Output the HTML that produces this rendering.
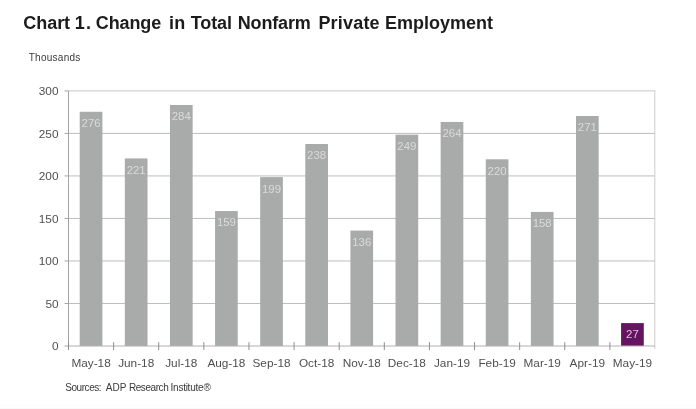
<!DOCTYPE html>
<html><head><meta charset="utf-8"><title>Chart 1</title>
<style>
html,body{margin:0;padding:0;background:#fff;}
body{width:696px;height:409px;overflow:hidden;position:relative;}
svg text{font-family:"Liberation Sans",Arial,sans-serif;}
.title{font-size:18px;font-weight:bold;fill:#1c1c1c;}
.ax{font-size:11.8px;fill:#505050;}
.dl{font-size:11.4px;}
.sm{font-size:10px;fill:#3a3a3a;}
</style></head><body>
<svg width="696" height="409" viewBox="0 0 696 409" style="position:absolute;left:0;top:0">
<rect x="0" y="0" width="696" height="409" fill="#ffffff"/>
<rect x="0" y="404" width="696" height="5" fill="#fdfdfd"/>
<rect x="0" y="408" width="696" height="1" fill="#f9f9f9"/>
<line x1="68.5" x2="655.0" y1="303.48" y2="303.48" stroke="#bebebe" stroke-width="1"/>
<line x1="68.5" x2="655.0" y1="260.97" y2="260.97" stroke="#bebebe" stroke-width="1"/>
<line x1="68.5" x2="655.0" y1="218.45" y2="218.45" stroke="#bebebe" stroke-width="1"/>
<line x1="68.5" x2="655.0" y1="175.93" y2="175.93" stroke="#bebebe" stroke-width="1"/>
<line x1="68.5" x2="655.0" y1="133.42" y2="133.42" stroke="#bebebe" stroke-width="1"/>
<line x1="68.5" x2="655.0" y1="90.90" y2="90.90" stroke="#c8c8c8" stroke-width="1"/>
<line x1="654.8" x2="654.8" y1="90.4" y2="349.0" stroke="#cccccc" stroke-width="1"/>
<rect x="79.71" y="111.76" width="22.7" height="234.24" fill="#a9abaa"/>
<rect x="124.82" y="158.44" width="22.7" height="187.56" fill="#a9abaa"/>
<rect x="169.94" y="104.97" width="22.7" height="241.03" fill="#a9abaa"/>
<rect x="215.05" y="211.06" width="22.7" height="134.94" fill="#a9abaa"/>
<rect x="260.17" y="177.11" width="22.7" height="168.89" fill="#a9abaa"/>
<rect x="305.28" y="144.01" width="22.7" height="201.99" fill="#a9abaa"/>
<rect x="350.40" y="230.58" width="22.7" height="115.42" fill="#a9abaa"/>
<rect x="395.52" y="134.67" width="22.7" height="211.33" fill="#a9abaa"/>
<rect x="440.63" y="121.94" width="22.7" height="224.06" fill="#a9abaa"/>
<rect x="485.75" y="159.29" width="22.7" height="186.71" fill="#a9abaa"/>
<rect x="530.86" y="211.91" width="22.7" height="134.09" fill="#a9abaa"/>
<rect x="575.98" y="116.00" width="22.7" height="230.00" fill="#a9abaa"/>
<rect x="621.09" y="323.09" width="22.7" height="22.91" fill="#651462"/>
<line x1="68.5" x2="68.5" y1="90.9" y2="346.0" stroke="#a4a4a4" stroke-width="1"/>
<line x1="68.5" x2="655.0" y1="346.0" y2="346.0" stroke="#b0b0b0" stroke-width="1"/>
<line x1="64.5" x2="68.5" y1="346.00" y2="346.00" stroke="#a4a4a4" stroke-width="1"/>
<text x="58.5" y="350.30" text-anchor="end" class="ax">0</text>
<line x1="64.5" x2="68.5" y1="303.48" y2="303.48" stroke="#a4a4a4" stroke-width="1"/>
<text x="58.5" y="307.78" text-anchor="end" class="ax">50</text>
<line x1="64.5" x2="68.5" y1="260.97" y2="260.97" stroke="#a4a4a4" stroke-width="1"/>
<text x="58.5" y="265.27" text-anchor="end" class="ax">100</text>
<line x1="64.5" x2="68.5" y1="218.45" y2="218.45" stroke="#a4a4a4" stroke-width="1"/>
<text x="58.5" y="222.75" text-anchor="end" class="ax">150</text>
<line x1="64.5" x2="68.5" y1="175.93" y2="175.93" stroke="#a4a4a4" stroke-width="1"/>
<text x="58.5" y="180.23" text-anchor="end" class="ax">200</text>
<line x1="64.5" x2="68.5" y1="133.42" y2="133.42" stroke="#a4a4a4" stroke-width="1"/>
<text x="58.5" y="137.72" text-anchor="end" class="ax">250</text>
<line x1="64.5" x2="68.5" y1="90.90" y2="90.90" stroke="#a4a4a4" stroke-width="1"/>
<text x="58.5" y="95.20" text-anchor="end" class="ax">300</text>
<line x1="68.50" x2="68.50" y1="342.2" y2="350.0" stroke="#8e8e8e" stroke-width="1"/>
<line x1="113.62" x2="113.62" y1="342.2" y2="350.0" stroke="#8e8e8e" stroke-width="1"/>
<line x1="158.73" x2="158.73" y1="342.2" y2="350.0" stroke="#8e8e8e" stroke-width="1"/>
<line x1="203.85" x2="203.85" y1="342.2" y2="350.0" stroke="#8e8e8e" stroke-width="1"/>
<line x1="248.96" x2="248.96" y1="342.2" y2="350.0" stroke="#8e8e8e" stroke-width="1"/>
<line x1="294.08" x2="294.08" y1="342.2" y2="350.0" stroke="#8e8e8e" stroke-width="1"/>
<line x1="339.19" x2="339.19" y1="342.2" y2="350.0" stroke="#8e8e8e" stroke-width="1"/>
<line x1="384.31" x2="384.31" y1="342.2" y2="350.0" stroke="#8e8e8e" stroke-width="1"/>
<line x1="429.42" x2="429.42" y1="342.2" y2="350.0" stroke="#8e8e8e" stroke-width="1"/>
<line x1="474.54" x2="474.54" y1="342.2" y2="350.0" stroke="#8e8e8e" stroke-width="1"/>
<line x1="519.65" x2="519.65" y1="342.2" y2="350.0" stroke="#8e8e8e" stroke-width="1"/>
<line x1="564.77" x2="564.77" y1="342.2" y2="350.0" stroke="#8e8e8e" stroke-width="1"/>
<line x1="609.88" x2="609.88" y1="342.2" y2="350.0" stroke="#8e8e8e" stroke-width="1"/>
<text x="91.06" y="366.8" text-anchor="middle" class="ax">May-18</text>
<text x="136.17" y="366.8" text-anchor="middle" class="ax">Jun-18</text>
<text x="181.29" y="366.8" text-anchor="middle" class="ax">Jul-18</text>
<text x="226.40" y="366.8" text-anchor="middle" class="ax">Aug-18</text>
<text x="271.52" y="366.8" text-anchor="middle" class="ax">Sep-18</text>
<text x="316.63" y="366.8" text-anchor="middle" class="ax">Oct-18</text>
<text x="361.75" y="366.8" text-anchor="middle" class="ax">Nov-18</text>
<text x="406.87" y="366.8" text-anchor="middle" class="ax">Dec-18</text>
<text x="451.98" y="366.8" text-anchor="middle" class="ax">Jan-19</text>
<text x="497.10" y="366.8" text-anchor="middle" class="ax">Feb-19</text>
<text x="542.21" y="366.8" text-anchor="middle" class="ax">Mar-19</text>
<text x="587.33" y="366.8" text-anchor="middle" class="ax">Apr-19</text>
<text x="632.44" y="366.8" text-anchor="middle" class="ax">May-19</text>
<text x="91.06" y="127.16" text-anchor="middle" class="dl" fill="#dadada">276</text>
<text x="136.17" y="173.84" text-anchor="middle" class="dl" fill="#dadada">221</text>
<text x="181.29" y="120.37" text-anchor="middle" class="dl" fill="#dadada">284</text>
<text x="226.40" y="226.46" text-anchor="middle" class="dl" fill="#dadada">159</text>
<text x="271.52" y="192.51" text-anchor="middle" class="dl" fill="#dadada">199</text>
<text x="316.63" y="159.41" text-anchor="middle" class="dl" fill="#dadada">238</text>
<text x="361.75" y="245.98" text-anchor="middle" class="dl" fill="#dadada">136</text>
<text x="406.87" y="150.07" text-anchor="middle" class="dl" fill="#dadada">249</text>
<text x="451.98" y="137.34" text-anchor="middle" class="dl" fill="#dadada">264</text>
<text x="497.10" y="174.69" text-anchor="middle" class="dl" fill="#dadada">220</text>
<text x="542.21" y="227.31" text-anchor="middle" class="dl" fill="#dadada">158</text>
<text x="587.33" y="131.40" text-anchor="middle" class="dl" fill="#dadada">271</text>
<text x="632.44" y="338.49" text-anchor="middle" class="dl" fill="#dcc6da">27</text>
<text y="28.5" class="title"><tspan x="23.3" letter-spacing="-0.05">Chart</tspan> <tspan x="74.8" letter-spacing="1.2">1.</tspan> <tspan x="95.8" letter-spacing="-0.12">Change</tspan> <tspan x="169.1" letter-spacing="0.2">in</tspan> <tspan x="190.7" letter-spacing="-0.1">Total</tspan> <tspan x="237.7" letter-spacing="-0.15">Nonfarm</tspan> <tspan x="318.4" letter-spacing="0.2">Private</tspan> <tspan x="384.9" letter-spacing="0">Employment</tspan></text>
<text x="28.7" y="61.0" class="sm" letter-spacing="0.27">Thousands</text>
<text y="390.9" class="sm"><tspan x="65.2" textLength="36.4" lengthAdjust="spacing">Sources:</tspan> <tspan x="105.8" textLength="20.4" lengthAdjust="spacing">ADP</tspan> <tspan x="128.9" textLength="39.8" lengthAdjust="spacing">Research</tspan> <tspan x="170.6" textLength="32.9" lengthAdjust="spacing">Institute</tspan> <tspan x="203.6" textLength="8.4" lengthAdjust="spacing">®</tspan></text>
</svg>
</body></html>
